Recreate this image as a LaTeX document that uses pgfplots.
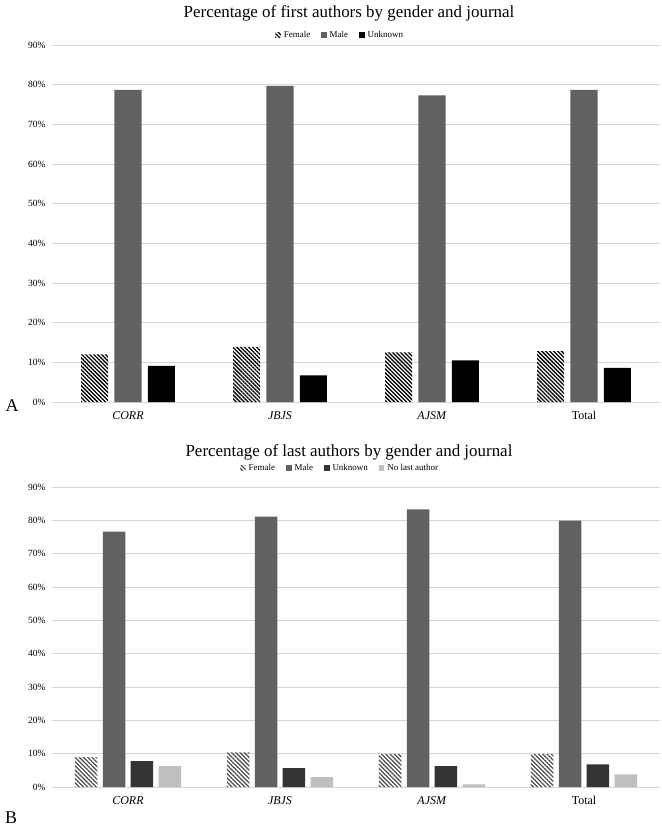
\documentclass[border=0pt]{standalone}
\usepackage{fontspec}
\setmainfont{Liberation Serif}
\usepackage{pgfplots}
\usepackage{pgfplotstable}
\pgfplotsset{compat=1.18}
\usetikzlibrary{patterns.meta}

\pgfplotstableread{
x female male unknown
0 12.0 78.7 9.1
1 13.9 79.7 6.7
2 12.5 77.3 10.5
3 12.8 78.7 8.6
}\tableA
\pgfplotstableread{
x female male unknown nolast
0 9.0 76.6 7.8 6.3
1 10.4 81.1 5.7 3.0
2 9.9 83.3 6.3 0.8
3 9.9 79.9 6.8 3.8
}\tableB

\pgfplotsset{
  panel/.style={
    scale only axis, width=608bp,
    xmin=-0.5, xmax=3.5, ymin=0, ymax=90,
    ytick={0,10,...,90},
    yticklabel={\pgfmathprintnumber{\tick}\%},
    /pgf/number format/assume math mode=true,
    axis line style={draw=none},
    ymajorgrids, grid style={draw=black!16, line width=0.8pt},
    major tick length=0,
    xtick={0,1,2,3},
    xticklabels={\textit{CORR},\textit{JBJS},\textit{AJSM},Total},
    xticklabel style={font=\fontsize{12}{12}\selectfont, yshift=-6bp},
    yticklabel style={font=\fontsize{9.5}{10}\selectfont, xshift=-3bp},
    ybar,
    legend columns=-1,
    legend style={draw=none, fill=none, font=\fontsize{9}{10}\selectfont, anchor=center,
      /tikz/every odd column/.append style={column sep=1bp},
      /tikz/every even column/.append style={column sep=9bp}},
    legend image code/.code={\path[##1] (0bp,-2.5bp) rectangle (5.5bp,3bp);},
  }
}

\begin{document}
\begin{tikzpicture}
\useasboundingbox (0,0) rectangle (662bp,-835bp);
\node[font=\fontsize{17}{18}\selectfont] at (349bp,-13bp) {Percentage of first authors by gender and journal};
\node[font=\fontsize{17}{18}\selectfont] at (349bp,-452bp) {Percentage of last authors by gender and journal};
\node[font=\fontsize{18}{18}\selectfont] at (12bp,-406bp) {A};
\node[font=\fontsize{18}{18}\selectfont] at (11bp,-818bp) {B};

\begin{axis}[panel, at={(52bp,-402bp)}, anchor=south west, height=357bp,
  bar width=0.178,
  legend style={at={(0.474,1.028)}}]
\addplot[draw=none, pattern={Lines[angle=-45, distance=2.8bp, line width=1.3bp]}, pattern color=black, bar shift=-0.22] table[x=x, y=female] {\tableA};
\addplot[draw=none, fill=black!62, bar shift=0] table[x=x, y=male] {\tableA};
\addplot[draw=none, fill=black, bar shift=0.22] table[x=x, y=unknown] {\tableA};
\legend{Female, Male, Unknown}
\end{axis}

\begin{axis}[panel, at={(52bp,-787bp)}, anchor=south west, height=300bp,
  bar width=0.148,
  legend style={at={(0.474,1.063)}}]
\addplot[draw=none, pattern={Lines[angle=-45, distance=3bp, line width=1.2bp]}, pattern color=black!70, bar shift=-0.276] table[x=x, y=female] {\tableB};
\addplot[draw=none, fill=black!62, bar shift=-0.092] table[x=x, y=male] {\tableB};
\addplot[draw=none, fill=black!80, bar shift=0.092] table[x=x, y=unknown] {\tableB};
\addplot[draw=none, fill=black!25, bar shift=0.276] table[x=x, y=nolast] {\tableB};
\legend{Female, Male, Unknown, No last author}
\end{axis}
\end{tikzpicture}
\end{document}
